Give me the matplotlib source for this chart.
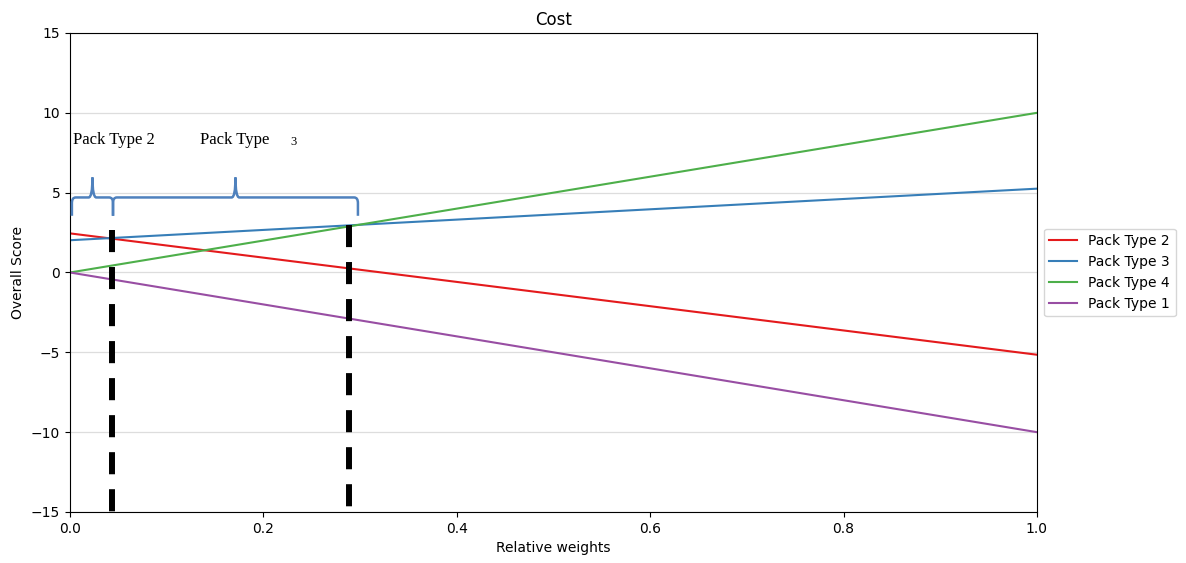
import matplotlib
matplotlib.use("Agg")
import matplotlib.pyplot as plt
from matplotlib.path import Path
from matplotlib.patches import PathPatch

# Overall score as a linear function of the relative weight on cost
series_names = ["Pack Type 2", "Pack Type 3", "Pack Type 4", "Pack Type 1"]
score_at_0 = [2.45, 2.02, 0.0, 0.0]
score_at_1 = [-5.15, 5.25, 10.0, -10.0]
series_colors = ["#e41a1c", "#377eb8", "#4daf4a", "#984ea3"]

# Weights where the best pack type switches, and the score at each switch
switch_weights = [0.0434, 0.2885]
switch_scores = [2.65, 2.95]

# Ranges of weight covered by each brace and their labels
brace_ranges = [(0.002, 0.0445), (0.0445, 0.2978)]
brace_labels = ["Pack Type 2", "Pack Type"]
brace_suffix = "3"

x_ticks = [0.0, 0.2, 0.4, 0.6, 0.8, 1.0]
y_ticks = [-15, -10, -5, 0, 5, 10, 15]

fig = plt.figure(figsize=(11.86, 5.63), dpi=100)
ax = fig.add_axes([0.059, 0.0906, 0.8153, 0.8508])

for name, y0, y1, c in zip(series_names, score_at_0, score_at_1, series_colors):
    ax.plot([0, 1], [y0, y1], color=c, lw=1.5, label=name)

for xw, ys in zip(switch_weights, switch_scores):
    ax.plot([xw, xw], [ys, -15], color="black", lw=4.3,
            linestyle=(0, (3.7, 2.5)), solid_capstyle="butt", zorder=5,
            clip_on=False)


def brace(x0, x1, y_end, y_bar, y_tip, rx, ry, color="#4f81bd"):
    xm = (x0 + x1) / 2
    verts = [
        (x0, y_end), (x0, y_bar - ry),
        (x0, y_bar), (x0 + rx, y_bar),
        (xm - rx, y_bar),
        (xm, y_bar), (xm, y_tip),
        (xm, y_bar), (xm + rx, y_bar),
        (x1 - rx, y_bar),
        (x1, y_bar), (x1, y_bar - ry),
        (x1, y_end),
    ]
    codes = [Path.MOVETO, Path.LINETO,
             Path.CURVE3, Path.CURVE3,
             Path.LINETO,
             Path.CURVE3, Path.CURVE3,
             Path.CURVE3, Path.CURVE3,
             Path.LINETO,
             Path.CURVE3, Path.CURVE3,
             Path.LINETO]
    ax.add_patch(PathPatch(Path(verts, codes), fill=False, edgecolor=color,
                           lw=1.8, zorder=6))


for (bx0, bx1) in brace_ranges:
    brace(bx0, bx1, 3.55, 4.7, 5.95, 0.004, 0.35)

ax.text(0.003, 8.3, brace_labels[0], family="Liberation Serif", fontsize=12,
        va="center", ha="left")
ax.text(0.134, 8.3, brace_labels[1], family="Liberation Serif", fontsize=12,
        va="center", ha="left")
ax.text(0.228, 8.2, brace_suffix, family="Liberation Serif", fontsize=9,
        va="center", ha="left")

ax.set_xlim(0, 1)
ax.set_ylim(-15, 15)
ax.set_xticks(x_ticks)
ax.set_yticks(y_ticks)
ax.yaxis.grid(True, color="#dddddd", lw=0.9)
ax.set_axisbelow(True)
ax.set_title("Cost")
ax.set_xlabel("Relative weights")
ax.set_ylabel("Overall Score")
ax.legend(loc="center left", bbox_to_anchor=(1.0, 0.5))

fig.savefig("out.png", dpi=100)
